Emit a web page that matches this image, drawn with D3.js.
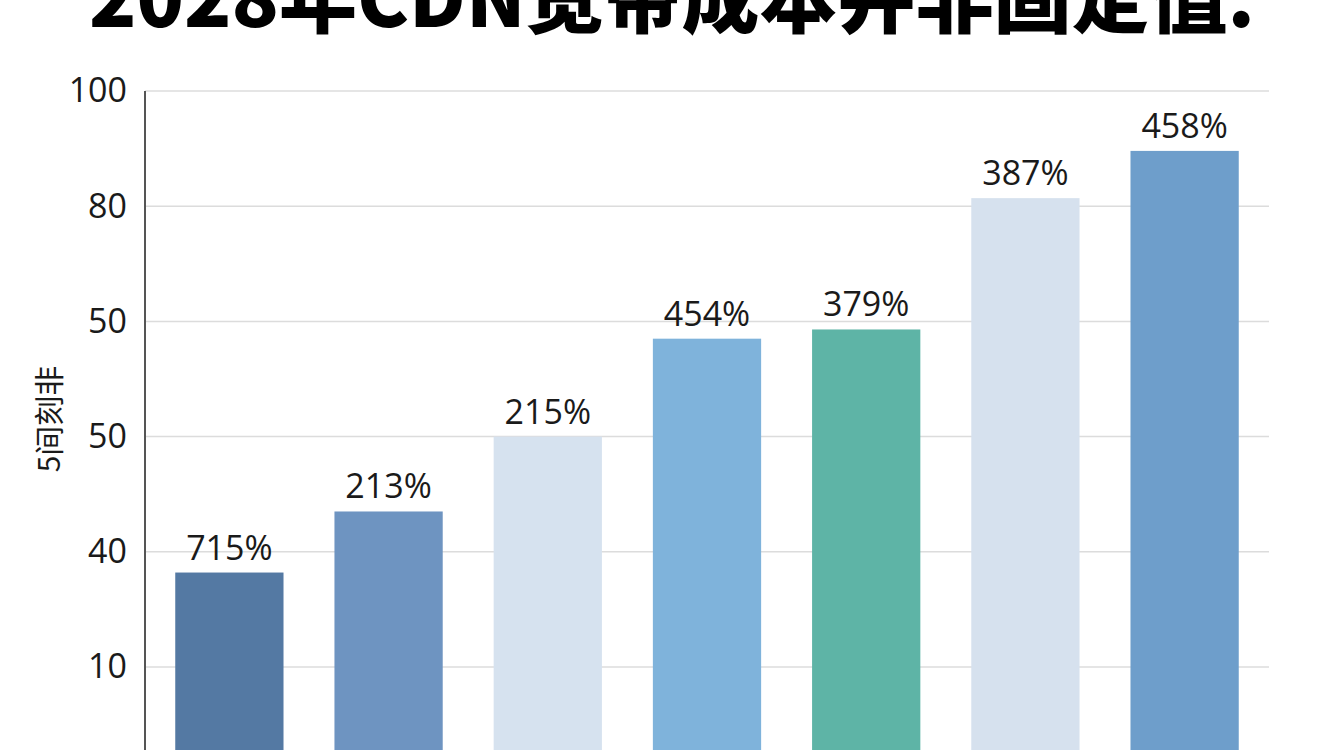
<!DOCTYPE html>
<html>
<head>
<meta charset="utf-8">
<script src="https://cdn.jsdelivr.net/npm/d3@7"></script>
<style>
  html, body { margin: 0; padding: 0; background: #ffffff; }
  svg { display: block; }
</style>
</head>
<body>
<svg id="chart" width="1344" height="750"></svg>
<script>
// ---- data ----
const title = "2028年CDN宽带成本并非固定值.";
const yAxisTitle = "5间刻非";
const categories = ["C1", "C2", "C3", "C4", "C5", "C6", "C7"];
// bar heights expressed in gridline steps (gridline "10" = 0, "100" = 5)
const values = [0.82, 1.35, 2.0, 2.85, 2.93, 4.07, 4.48];
const valueLabels = ["715%", "213%", "215%", "454%", "379%", "387%", "458%"];
const barColors = ["#5479a3", "#6e94c1", "#d6e2ef", "#7fb3db", "#5eb4a6", "#d6e1ee", "#6e9ecb"];
const tickValues = [0, 1, 2, 3, 4, 5];
const tickLabels = ["10", "40", "50", "50", "80", "100"];

// ---- layout ----
const svg = d3.select("#chart");
const mLeft = 145, mRight = 1269, mTop = 91, mBottomGrid = 667;

const y = d3.scaleLinear().domain([0, 5]).range([mBottomGrid, mTop]);
const x = d3.scaleBand().domain(categories).range([mLeft, mRight])
  .paddingInner(0.32).paddingOuter(0.19);

// gridlines
svg.append("g").selectAll("line").data(tickValues).join("line")
  .attr("x1", mLeft).attr("x2", mRight)
  .attr("y1", d => y(d)).attr("y2", d => y(d))
  .attr("stroke", "#dcdcdc").attr("stroke-width", 1.5);

// y axis via d3.axisLeft
const yAxis = d3.axisLeft(y).tickValues(tickValues)
  .tickFormat((d, i) => tickLabels[i]).tickSize(0).tickPadding(18);
const gy = svg.append("g").attr("transform", `translate(${mLeft},0)`).call(yAxis);
gy.select(".domain").remove();
gy.selectAll("text")
  .attr("font-family", "'Open Sans', 'Noto Sans', sans-serif")
  .attr("font-size", 34).attr("fill", "#1a1a1a");

// axis line
svg.append("line")
  .attr("x1", mLeft).attr("x2", mLeft)
  .attr("y1", y(5)).attr("y2", y(-1))
  .attr("stroke", "#555").attr("stroke-width", 2);

// bars
svg.append("g").selectAll("rect").data(values).join("rect")
  .attr("x", (d, i) => x(categories[i]))
  .attr("width", x.bandwidth())
  .attr("y", d => y(d))
  .attr("height", d => y(-1) - y(d))
  .attr("fill", (d, i) => barColors[i]);

// value labels
svg.append("g").selectAll("text").data(values).join("text")
  .attr("x", (d, i) => x(categories[i]) + x.bandwidth() / 2)
  .attr("y", d => y(d) - 13)
  .attr("text-anchor", "middle")
  .attr("font-family", "'Open Sans', 'Noto Sans', sans-serif")
  .attr("font-size", 34).attr("fill", "#1a1a1a")
  .text((d, i) => valueLabels[i]);

// y axis title
svg.append("text")
  .attr("transform", "translate(47,419) rotate(-90)")
  .attr("text-anchor", "middle").attr("dominant-baseline", "central")
  .attr("font-family", "'Noto Sans CJK SC', sans-serif")
  .attr("font-size", 30).attr("fill", "#1a1a1a")
  .text(yAxisTitle);

// title
svg.append("text")
  .attr("x", 672).attr("y", 27)
  .attr("text-anchor", "middle")
  .attr("font-family", "'Noto Sans CJK SC', sans-serif")
  .attr("font-weight", 900).attr("font-size", 78).attr("fill", "#000")
  .text(title);
</script>
</body>
</html>
